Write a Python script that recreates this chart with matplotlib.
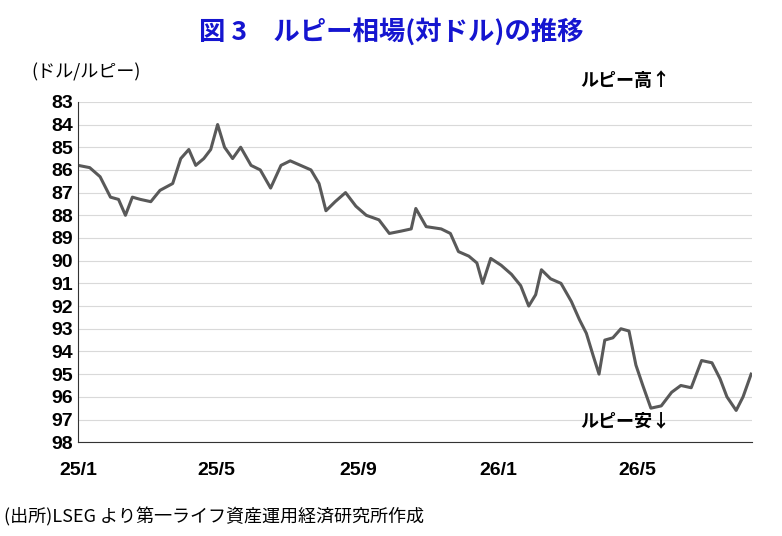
import matplotlib
matplotlib.use("Agg")
import matplotlib.pyplot as plt
import pandas as pd

plt.rcParams['font.family'] = ['Noto Sans CJK JP', 'DejaVu Sans']

dates = ["2025-01-01","2025-01-11","2025-01-20","2025-01-29","2025-02-05","2025-02-11","2025-02-17","2025-02-24",
 "2025-03-05","2025-03-13","2025-03-24","2025-03-31","2025-04-07","2025-04-13","2025-04-20","2025-04-26",
 "2025-05-02","2025-05-08","2025-05-15","2025-05-22","2025-05-31","2025-06-08","2025-06-17","2025-06-26",
 "2025-07-04","2025-07-13","2025-07-22","2025-07-29","2025-08-04","2025-08-12","2025-08-21","2025-08-30",
 "2025-09-08","2025-09-19","2025-09-28","2025-10-08","2025-10-17","2025-10-21","2025-10-30","2025-11-12",
 "2025-11-20","2025-11-27","2025-12-06","2025-12-13","2025-12-18","2025-12-25","2026-01-03","2026-01-12",
 "2026-01-20","2026-01-27","2026-02-02","2026-02-07","2026-02-15","2026-02-24","2026-03-05","2026-03-12",
 "2026-03-18","2026-03-24","2026-03-29","2026-04-03","2026-04-10","2026-04-17","2026-04-24","2026-04-30",
 "2026-05-06","2026-05-13","2026-05-22","2026-05-31","2026-06-08","2026-06-17","2026-06-26","2026-07-05",
 "2026-07-12","2026-07-18","2026-07-26","2026-08-01","2026-08-08"]
rates = [85.8,85.9,86.3,87.2,87.3,88.0,87.2,87.3,
 87.4,86.9,86.6,85.5,85.1,85.8,85.5,85.1,
 84.0,85.0,85.5,85.0,85.8,86.0,86.8,85.8,
 85.6,85.8,86.0,86.6,87.8,87.4,87.0,87.6,
 88.0,88.2,88.8,88.7,88.6,87.7,88.5,88.6,
 88.8,89.6,89.8,90.1,91.0,89.9,90.2,90.6,
 91.1,92.0,91.5,90.4,90.8,91.0,91.8,92.6,
 93.2,94.2,95.0,93.5,93.4,93.0,93.1,94.6,
 95.5,96.5,96.4,95.8,95.5,95.6,94.4,94.5,
 95.2,96.0,96.6,96.0,95.0]
xticks = ["2025-01-01","2025-05-01","2025-09-01","2026-01-01","2026-05-01"]
xticklabels = ["25/1","25/5","25/9","26/1","26/5"]
yticks = list(range(83, 99))

fig = plt.figure(figsize=(7.82, 5.36), dpi=100)
ax = fig.add_axes([0.1, 0.175, 0.862, 0.635])
ax.plot(pd.to_datetime(dates), rates, color="#595959", lw=2.2)
ax.set_ylim(98, 83)
ax.set_yticks(yticks)
ax.set_xlim(pd.Timestamp("2025-01-01"), pd.Timestamp("2026-08-09"))
ax.set_xticks(pd.to_datetime(xticks))
ax.set_xticklabels(xticklabels)
ax.tick_params(axis='both', labelsize=14, length=0)
ax.tick_params(axis='x', pad=14)
for l in ax.get_xticklabels() + ax.get_yticklabels():
    l.set_fontweight('bold')
    l.set_family('Liberation Sans')
ax.grid(axis='y', color="#d9d9d9", lw=0.8)
ax.spines['top'].set_visible(False)
ax.spines['right'].set_visible(False)
ax.spines['left'].set_color('#333333')
ax.spines['bottom'].set_color('#333333')

fig.text(0.5, 0.94, "図 3　ルピー相場(対ドル)の推移", ha='center', va='center',
         fontsize=19, fontweight='bold', color='#1515d0')
fig.text(0.04, 0.865, "(ドル/ルピー)", fontsize=13, ha='left', va='center')
fig.text(0.8, 0.85, "ルピー高↑", fontsize=13, fontweight='bold', ha='center', va='center')
fig.text(0.8, 0.215, "ルピー安↓", fontsize=13, fontweight='bold', ha='center', va='center')
fig.text(0.005, 0.035, "(出所)LSEG より第一ライフ資産運用経済研究所作成", fontsize=13, ha='left', va='center')

fig.savefig("out.png", dpi=100)
